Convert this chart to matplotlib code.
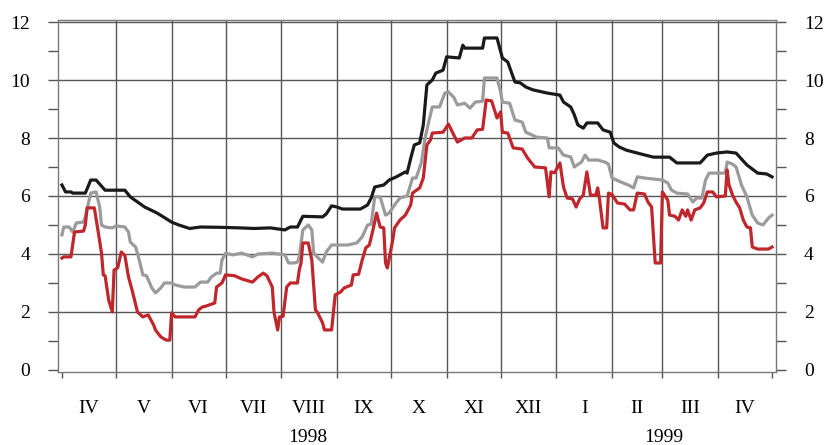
import matplotlib
matplotlib.use("Agg")
import matplotlib.pyplot as plt
import matplotlib.transforms as mtransforms
import pandas as pd
import numpy as np

START = pd.Timestamp("1998-04-01")

# days since 1 April 1998, and values
black_days = [0, 2, 5, 6, 13, 16, 19, 24, 29, 35, 38, 46, 53, 61, 65, 71, 77, 88, 99, 107,
              116, 124, 127, 131, 134, 145, 147, 150, 153, 156, 166, 170, 172, 174, 179,
              182, 186, 191, 192, 194, 196, 199, 201, 203, 206, 208, 212, 214, 221, 223,
              224, 234, 235, 242, 245, 248, 250, 252, 255, 258, 262, 270, 277, 279, 283,
              285, 287, 290, 292, 298, 301, 305, 307, 310, 314, 322, 329, 338, 342, 355,
              359, 364, 370, 375, 381, 387, 392, 395]
black_vals = [6.38, 6.14, 6.14, 6.1, 6.1, 6.55, 6.55, 6.2, 6.2, 6.2, 5.97, 5.62, 5.41, 5.1,
              5.0, 4.88, 4.93, 4.92, 4.9, 4.88, 4.9, 4.83, 4.93, 4.93, 5.3, 5.28, 5.38,
              5.66, 5.62, 5.55, 5.55, 5.69, 5.93, 6.31, 6.38, 6.55, 6.66, 6.83, 6.79, 7.3,
              7.76, 7.83, 8.45, 9.83, 10.0, 10.24, 10.34, 10.8, 10.76, 11.2, 11.1, 11.1,
              11.45, 11.45, 10.76, 10.62, 10.27, 9.93, 9.9, 9.76, 9.66, 9.55, 9.48, 9.24,
              9.07, 8.8, 8.45, 8.34, 8.52, 8.52, 8.28, 8.2, 7.83, 7.69, 7.58, 7.45, 7.34,
              7.34, 7.14, 7.14, 7.41, 7.48, 7.52, 7.48, 7.07, 6.79, 6.76, 6.66]

gray_days = [0, 1, 4, 6, 8, 12, 13, 16, 19, 21, 22, 24, 28, 30, 35, 37, 38, 41, 43, 45, 47,
             50, 52, 55, 57, 61, 63, 68, 74, 77, 81, 83, 86, 88, 89, 91, 95, 100, 106, 109,
             117, 124, 126, 129, 131, 132, 134, 137, 139, 140, 142, 145, 147, 150, 159, 164,
             167, 170, 172, 174, 177, 180, 182, 185, 188, 192, 195, 197, 200, 202, 204, 206,
             210, 213, 215, 218, 220, 224, 227, 230, 234, 235, 242, 244, 245, 249, 252, 256,
             258, 264, 270, 271, 276, 279, 283, 285, 289, 291, 293, 298, 302, 304, 306, 311,
             315, 318, 320, 324, 334, 337, 339, 342, 348, 351, 353, 356, 358, 360, 369, 370,
             373, 375, 378, 381, 384, 387, 390, 393, 395]
gray_vals = [4.66, 4.93, 4.93, 4.76, 5.07, 5.1, 5.28, 6.1, 6.14, 5.62, 5.0, 4.93, 4.9, 4.97,
             4.93, 4.76, 4.41, 4.24, 3.79, 3.28, 3.25, 2.83, 2.66, 2.83, 3.0, 3.0, 2.93, 2.86,
             2.86, 3.03, 3.03, 3.2, 3.34, 3.34, 3.79, 4.03, 3.97, 4.03, 3.9, 4.0, 4.03, 3.97,
             3.69, 3.69, 3.72, 3.9, 4.83, 5.0, 4.83, 4.03, 3.9, 3.72, 4.07, 4.31, 4.31, 4.38,
             4.59, 5.0, 5.03, 5.97, 5.97, 5.34, 5.41, 5.69, 5.93, 6.0, 6.62, 6.62, 7.17, 8.0,
             8.55, 9.07, 9.07, 9.55, 9.59, 9.4, 9.14, 9.2, 9.03, 9.24, 9.27, 10.07, 10.07,
             9.59, 9.24, 9.2, 8.62, 8.55, 8.2, 8.03, 8.0, 7.66, 7.66, 7.41, 7.35, 7.0, 7.17,
             7.41, 7.24, 7.24, 7.17, 7.1, 6.62, 6.48, 6.38, 6.28, 6.66, 6.62, 6.55, 6.45,
             6.21, 6.1, 6.07, 5.79, 5.93, 5.93, 6.55, 6.79, 6.79, 7.17, 7.1, 7.0, 6.38, 5.97,
             5.34, 5.07, 5.0, 5.24, 5.34]

red_days = [0, 1, 5, 7, 12, 13, 14, 18, 20, 22, 23, 24, 26, 28, 29, 31, 33, 35, 37, 39, 42,
            45, 48, 51, 52, 55, 58, 60, 61, 63, 74, 76, 78, 80, 85, 86, 89, 91, 96, 100, 106,
            109, 112, 114, 117, 118, 120, 121, 123, 125, 127, 131, 132, 133, 134, 137, 139,
            141, 142, 145, 146, 150, 152, 155, 157, 161, 162, 165, 167, 169, 171, 173, 175,
            177, 179, 180, 181, 184, 185, 188, 191, 194, 195, 199, 201, 203, 205, 206, 212,
            215, 218, 220, 224, 228, 231, 234, 236, 239, 242, 244, 245, 248, 251, 256, 259,
            263, 269, 271, 272, 274, 277, 279, 281, 284, 286, 288, 290, 292, 294, 297, 298,
            299, 301, 303, 304, 306, 309, 313, 316, 318, 320, 324, 326, 328, 330, 333, 334,
            337, 338, 341, 343, 345, 347, 348, 350, 352, 355, 357, 359, 362, 364, 369, 370,
            371, 373, 375, 377, 379, 381, 383, 384, 387, 393, 395]
red_vals = [3.86, 3.9, 3.9, 4.76, 4.79, 5.0, 5.59, 5.59, 4.83, 4.03, 3.28, 3.25, 2.41, 2.0,
            3.45, 3.52, 4.07, 3.95, 3.21, 2.76, 2.0, 1.83, 1.9, 1.55, 1.38, 1.14, 1.03, 1.03,
            1.97, 1.83, 1.83, 2.07, 2.17, 2.2, 2.31, 2.86, 3.0, 3.28, 3.25, 3.14, 3.03, 3.21,
            3.34, 3.25, 2.86, 1.97, 1.38, 1.83, 1.85, 2.86, 3.0, 3.0, 3.45, 3.69, 4.38, 4.38,
            3.79, 2.07, 2.0, 1.62, 1.38, 1.38, 2.59, 2.69, 2.83, 2.93, 3.28, 3.3, 3.79, 4.21,
            4.31, 4.83, 5.41, 4.93, 4.9, 3.69, 3.52, 4.48, 4.9, 5.17, 5.34, 5.69, 6.1, 6.28,
            6.62, 7.76, 7.93, 8.17, 8.2, 8.48, 8.1, 7.86, 8.0, 8.0, 8.28, 8.3, 9.31, 9.28,
            8.69, 8.9, 8.2, 8.17, 7.66, 7.62, 7.31, 7.0, 6.97, 5.97, 6.83, 6.8, 7.14, 6.31,
            5.93, 5.9, 5.62, 5.9, 6.03, 6.83, 6.03, 6.03, 6.28, 5.9, 4.9, 4.9, 6.1, 6.05,
            5.76, 5.72, 5.52, 5.52, 6.1, 6.07, 5.79, 5.62, 3.69, 3.69, 6.14, 5.86, 5.34, 5.3,
            5.17, 5.52, 5.3, 5.52, 5.17, 5.52, 5.59, 5.76, 6.14, 6.14, 5.97, 6.0, 6.9, 6.4,
            6.03, 5.79, 5.59, 5.17, 4.93, 4.9, 4.24, 4.17, 4.17, 4.24]

month_labels = ["IV", "V", "VI", "VII", "VIII", "IX", "X", "XI", "XII", "I", "II", "III", "IV"]
years = ["1998", "1999"]
y_ticks = [0, 2, 4, 6, 8, 10, 12]


def to_dates(days):
    return START + pd.to_timedelta(np.asarray(days), unit="D")


plt.rcParams["font.family"] = ["Liberation Serif", "DejaVu Serif"]

fig = plt.figure(figsize=(8.26, 4.45), dpi=100)
ax = fig.add_axes([58 / 826, 1 - 372 / 445, (776 - 58) / 826, (372 - 20) / 445])

month_starts = pd.date_range("1998-04-01", "1999-05-01", freq="MS")
mids = [month_starts[i] + (month_starts[i + 1] - month_starts[i]) / 2 for i in range(len(month_starts) - 1)]

# grid
for m in month_starts[1:-1]:
    ax.axvline(m, color="#555555", lw=1.0, zorder=1)
for yv in y_ticks[1:]:
    ax.axhline(yv, color="#555555", lw=1.0, zorder=1)

lw = 2.3
ax.plot(to_dates(gray_days), gray_vals, color="#9b9b9b", lw=lw, zorder=3, solid_joinstyle="round")
ax.plot(to_dates(red_days), red_vals, color="#c0272d", lw=lw, zorder=4, solid_joinstyle="round")
ax.plot(to_dates(black_days), black_vals, color="#1a1a1a", lw=lw, zorder=5, solid_joinstyle="round")

ax.set_xlim(START - pd.Timedelta(days=2.2), START + pd.Timedelta(days=397.2))
ax.set_ylim(-0.07, 12.07)

for s in ax.spines.values():
    s.set_color("#7a7a7a")
    s.set_linewidth(1.0)

ax.set_yticks(y_ticks)
ax.set_yticks([1, 3, 5, 7, 9, 11], minor=True)
ax.tick_params(axis="y", which="both", direction="out", length=7, width=1.0, color="#555555",
               left=True, right=True, labelleft=True, labelright=True, labelsize=14, pad=13)

ax.set_xticks(month_starts)
ax.set_xticklabels([])
ax.set_xticks(mids, minor=True)
ax.set_xticklabels(month_labels, minor=True)
ax.tick_params(axis="x", which="major", direction="out", length=4.5, width=1.0, color="#555555")
ax.tick_params(axis="x", which="minor", length=0, labelsize=14, pad=20)

trans = mtransforms.blended_transform_factory(ax.transData, fig.transFigure)
year_pos = [pd.Timestamp("1998-08-16"), pd.Timestamp("1999-03-02")]
for yp, yl in zip(year_pos, years):
    ax.text(yp, 1 - 438 / 445, yl, transform=trans, ha="center", va="center", fontsize=14)

fig.savefig("out.png", dpi=100)
